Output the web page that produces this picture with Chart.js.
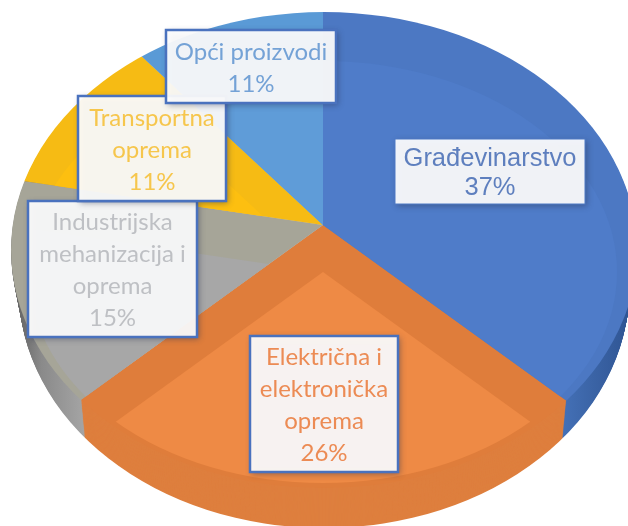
<!DOCTYPE html>
<html><head><meta charset="utf-8">
<style>html,body{margin:0;padding:0;background:#fff}canvas{display:block;filter:blur(0.6px)}</style>
<script src="https://cdn.jsdelivr.net/npm/chart.js@4"></script>
</head><body>
<canvas id="c" width="628" height="526"></canvas>
<script>
const categories = [['Građevinarstvo'],['Električna i','elektronička','oprema'],['Industrijska','mehanizacija i','oprema'],['Transportna','oprema'],['Opći proizvodi']];
const values = [37,26,15,11,11];
const bevelColors = ['#4C78C3','#DF7D3B','#A6A598','#F6BB14','#5A9AD6'];
const faceColors  = ['#4F7CC9','#EE8A45','#A7A7A7','#FDBF10','#5F9CD8'];
const textColors  = ['#5E7FBE','#EC8B54','#BEC0C4','#F6C64C','#74A2D6'];
const labelBoxes  = [[395,139,190,65],[250,336,148,136],[28,201,169,136],[78,96,148,105],[166,30,170,73]];
const labelFonts  = ['25.5px "Liberation Sans"','24px Lato','24px Lato','24px Lato','24px Lato'];

// Outer rim ellipse, off-centre apex (perspective), raised inner face.
const OUT={x:324,y:250,rx:313,ry:238,ax:323,ay:225};
const INN={x:323,y:272,rx:294,ry:211,ax:323,ay:272};
const DEPTH=40, SHRINK=0.2, WEDGE_RY=520, WEDGE_ASPECT=1.3;

function wedgeT(ctx,a,ax,ay){
  const R=a.outerRadius;
  ctx.translate(ax,ay);ctx.scale(WEDGE_RY*WEDGE_ASPECT/R,WEDGE_RY/R);ctx.translate(-a.x,-a.y);
}
function clipEllipse(ctx,e,d,sh){
  ctx.beginPath();ctx.ellipse(e.x,e.y+d,e.rx-sh,e.ry,0,0,Math.PI*2);ctx.clip();
}
function clipSlice(ctx,a,ax,ay){
  ctx.beginPath();ctx.save();wedgeT(ctx,a,ax,ay);
  ctx.moveTo(a.x,a.y);ctx.arc(a.x,a.y,a.outerRadius,a.startAngle,a.endAngle);ctx.closePath();
  ctx.restore();ctx.clip();
}
function paint(ctx,a,fill){
  const o=a.options,p=Object.create(o);
  Object.defineProperty(p,'backgroundColor',{value:fill});
  a.options=p;a.draw(ctx);a.options=o;
}
function wallFill(ctx,a,i){
  if(i===1)return '#DE7F3E';
  const x0=a.x-a.outerRadius,w=a.outerRadius*2,g=ctx.createLinearGradient(x0,0,x0+w,0);
  // the wedge scale makes the chart-space x range wider than the visible pie
  const k=OUT.rx/(WEDGE_RY*WEDGE_ASPECT),m=t=>0.5+(t-0.5)*k;
  if(i===0){g.addColorStop(m(0.85),'#4A79C2');g.addColorStop(m(0.93),'#3B64A6');g.addColorStop(m(1),'#2D5290');}
  else{g.addColorStop(m(0),'#5a5a5a');g.addColorStop(m(0.05),'#8A8A8A');g.addColorStop(m(0.2),'#C4C4C4');}
  return g;
}
const pie3d={
  id:'pie3d',
  beforeDatasetsDraw(chart){
    const ctx=chart.ctx,arcs=chart.getDatasetMeta(0).data;
    for(let d=DEPTH;d>=1;d--){
      arcs.forEach((a,i)=>{
        ctx.save();clipEllipse(ctx,OUT,d,d*SHRINK);wedgeT(ctx,a,OUT.ax,OUT.ay+d);
        paint(ctx,a,wallFill(ctx,a,i));ctx.restore();
      });
    }
    arcs.forEach((a,i)=>{
      ctx.save();clipEllipse(ctx,OUT,0,0);wedgeT(ctx,a,OUT.ax,OUT.ay);
      paint(ctx,a,bevelColors[i]);ctx.restore();
    });
    arcs.forEach((a,i)=>{
      ctx.save();clipEllipse(ctx,OUT,0,0);clipSlice(ctx,a,OUT.ax,OUT.ay);clipEllipse(ctx,INN,0,0);
      wedgeT(ctx,a,INN.ax,INN.ay);paint(ctx,a,faceColors[i]);ctx.restore();
    });
    return false;
  },
  afterDraw(chart){
    const ctx=chart.ctx;
    categories.forEach((lines,i)=>{
      const [x,y,w,h]=labelBoxes[i];
      ctx.save();
      ctx.shadowColor='rgba(40,50,80,.5)';ctx.shadowBlur=6;ctx.shadowOffsetX=2;ctx.shadowOffsetY=2;
      ctx.fillStyle='rgba(255,255,255,.92)';ctx.fillRect(x,y,w,h);
      ctx.shadowColor='transparent';
      ctx.strokeStyle=i===0?'#4E7AC5':'#4A72BE';ctx.lineWidth=i===0?1:2.5;ctx.strokeRect(x,y,w,h);
      const all=[...lines,values[i]+'%'],lh=i===0?29:32;
      ctx.fillStyle=textColors[i];ctx.font=labelFonts[i];ctx.textAlign='center';ctx.textBaseline='middle';
      const y0=y+h/2-lh*(all.length-1)/2+1.5;
      all.forEach((t,k)=>ctx.fillText(t,x+w/2,y0+k*lh));
      ctx.restore();
    });
  }
};
new Chart(document.getElementById('c'),{
  type:'pie',
  data:{labels:categories.map(l=>l.join(' ')),datasets:[{data:values,backgroundColor:bevelColors,borderWidth:0}]},
  options:{responsive:false,animation:false,rotation:0,
    plugins:{legend:{display:false},tooltip:{enabled:false}}},
  plugins:[pie3d]
});
</script>
</body></html>
